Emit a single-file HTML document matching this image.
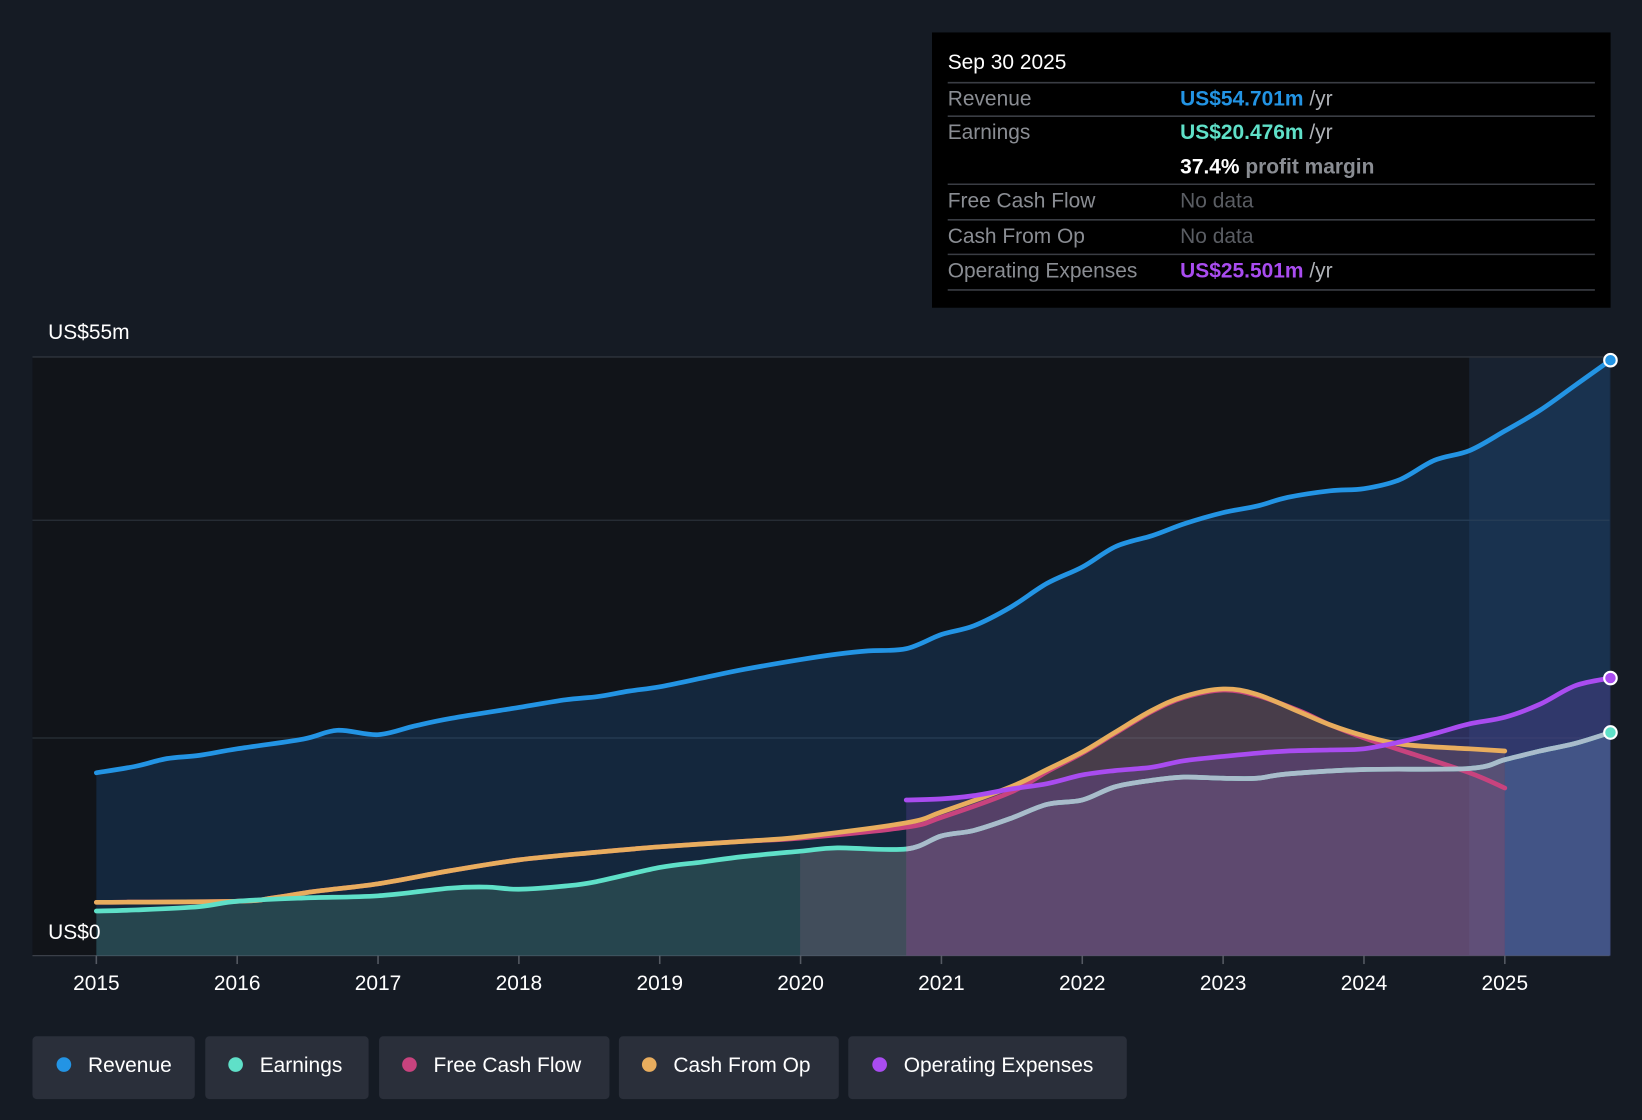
<!DOCTYPE html>
<html><head><meta charset="utf-8"><style>
html,body{margin:0;padding:0;background:#151b24;}
svg{display:block;font-family:"Liberation Sans",sans-serif;}
</style></head><body>
<svg id="chart" width="1642" height="1120" viewBox="0 0 1568 1070" preserveAspectRatio="none" xmlns="http://www.w3.org/2000/svg">
<defs>
<clipPath id="preClip"><rect x="0" y="300" width="764" height="700"/></clipPath>
<clipPath id="midClip"><rect x="764" y="300" width="101.5" height="700"/></clipPath>
<clipPath id="afterClip"><rect x="865.4" y="300" width="800" height="700"/></clipPath>
<clipPath id="histClip"><rect x="865.4" y="300" width="571.6" height="700"/></clipPath>
<clipPath id="futClip"><rect x="1437" y="300" width="200" height="700"/></clipPath>
</defs>
<rect x="0" y="0" width="1568" height="1070" fill="#151b24"/>
<rect x="31" y="341" width="1372" height="572" fill="#111419"/>
<rect x="1403" y="341" width="134" height="572" fill="#182230"/>
<g id="grid"></g>
<g id="fills"></g>
<g id="lines"></g>
<g id="axis"></g>
<text x="46" y="324" fill="#fff" font-size="20">US$55m</text>
<text x="46" y="897" fill="#fff" font-size="20">US$0</text>

<g>
<rect x="890" y="31" width="648" height="263" fill="#000"/>
<text x="905" y="66" fill="#fff" font-size="20">Sep 30 2025</text>
<g stroke="#3a3d44" stroke-width="1.5">
<line x1="905" y1="79" x2="1523" y2="79"/><line x1="905" y1="111" x2="1523" y2="111"/>
<line x1="905" y1="176" x2="1523" y2="176"/><line x1="905" y1="210" x2="1523" y2="210"/>
<line x1="905" y1="243" x2="1523" y2="243"/><line x1="905" y1="277" x2="1523" y2="277"/>
</g>
<g font-size="20" fill="#8a8d93">
<text x="905" y="101">Revenue</text><text x="905" y="133">Earnings</text>
<text x="905" y="198">Free Cash Flow</text><text x="905" y="232">Cash From Op</text>
<text x="905" y="265">Operating Expenses</text>
</g>
<text x="1127" y="101" font-size="20" font-weight="bold" fill="#2394e4">US$54.701m <tspan fill="#b0b3b8" font-weight="normal">/yr</tspan></text>
<text x="1127" y="133" font-size="20" font-weight="bold" fill="#5fe0c8">US$20.476m <tspan fill="#b0b3b8" font-weight="normal">/yr</tspan></text>
<text x="1127" y="166" font-size="20" font-weight="bold" fill="#fff">37.4% <tspan fill="#8a8d93">profit margin</tspan></text>
<text x="1127" y="198" font-size="20" fill="#5a5d63">No data</text>
<text x="1127" y="232" font-size="20" fill="#5a5d63">No data</text>
<text x="1127" y="265" font-size="20" font-weight="bold" fill="#a94cf0">US$25.501m <tspan fill="#b0b3b8" font-weight="normal">/yr</tspan></text>
</g>

<g font-size="20" fill="#fff">
<g><rect x="31" y="990" width="155" height="60" rx="4" fill="#2a2f3a"/><circle cx="61" cy="1017" r="7" fill="#2394e4"/><text x="84" y="1024" fill="#fff">Revenue</text></g>
<g><rect x="196" y="990" width="156" height="60" rx="4" fill="#2a2f3a"/><circle cx="225" cy="1017" r="7" fill="#5fe0c8"/><text x="248" y="1024" fill="#fff">Earnings</text></g>
<g><rect x="362" y="990" width="220" height="60" rx="4" fill="#2a2f3a"/><circle cx="391" cy="1017" r="7" fill="#c8437e"/><text x="414" y="1024" fill="#fff">Free Cash Flow</text></g>
<g><rect x="591" y="990" width="210" height="60" rx="4" fill="#2a2f3a"/><circle cx="620" cy="1017" r="7" fill="#e8ad5e"/><text x="643" y="1024" fill="#fff">Cash From Op</text></g>
<g><rect x="810" y="990" width="266" height="60" rx="4" fill="#2a2f3a"/><circle cx="840" cy="1017" r="7" fill="#a94cf0"/><text x="863" y="1024" fill="#fff">Operating Expenses</text></g>
</g>
</svg>
<script>
const revYears=[2015,2015.28,2015.5,2015.73,2016,2016.47,2016.71,2017,2017.26,2017.52,2018,2018.33,2018.56,2018.78,2019,2019.3,2019.6,2020,2020.26,2020.48,2020.75,2021,2021.23,2021.49,2021.75,2022,2022.24,2022.5,2022.73,2023,2023.24,2023.46,2023.76,2024,2024.25,2024.5,2024.75,2025,2025.25,2025.5,2025.75];
const revVals=[16.8,17.4,18.1,18.4,19.0,19.9,20.7,20.3,21.1,21.8,22.8,23.5,23.8,24.3,24.7,25.5,26.3,27.2,27.7,28.0,28.2,29.5,30.3,32.0,34.2,35.7,37.6,38.6,39.7,40.7,41.3,42.1,42.7,42.9,43.7,45.5,46.4,48.2,50.1,52.4,54.7];
const earnYears=[2015,2015.28,2015.73,2016,2016.47,2017,2017.51,2017.77,2018,2018.33,2018.55,2019,2019.3,2019.59,2020,2020.26,2020.75,2021,2021.23,2021.49,2021.75,2022,2022.23,2022.49,2022.72,2023,2023.24,2023.46,2024,2024.75,2025,2025.25,2025.5,2025.75];
const earnVals=[4.1,4.2,4.5,5.0,5.3,5.5,6.2,6.3,6.1,6.4,6.8,8.1,8.6,9.1,9.6,9.9,9.8,11.0,11.5,12.6,13.9,14.3,15.5,16.1,16.4,16.3,16.3,16.7,17.1,17.2,18.0,18.8,19.5,20.5];
const cfoYears=[2015,2016,2016.25,2016.55,2017,2017.51,2018,2018.55,2019,2019.59,2020,2020.75,2021,2021.49,2021.75,2022,2022.23,2022.49,2022.72,2023,2023.24,2023.54,2023.76,2024,2024.28,2024.75,2025];
const cfoVals=[4.9,5.0,5.3,5.9,6.6,7.8,8.8,9.5,10.0,10.5,10.9,12.2,13.2,15.5,17.1,18.7,20.5,22.5,23.8,24.5,24.0,22.4,21.2,20.2,19.4,19.0,18.8];
const fcfYears=[2015,2016,2016.25,2016.55,2017,2017.51,2018,2018.55,2019,2019.59,2020,2020.75,2021,2021.49,2021.75,2022,2022.23,2022.49,2022.72,2023,2023.24,2023.54,2023.76,2024,2024.28,2024.75,2025];
const fcfVals=[4.9,5.0,5.3,5.9,6.6,7.8,8.8,9.5,10.0,10.5,10.8,11.8,12.7,15.0,16.9,18.6,20.4,22.4,23.7,24.4,23.9,22.5,21.2,20.0,18.8,16.8,15.4];
const opexYears=[2020.75,2021,2021.23,2021.49,2021.75,2022,2022.23,2022.49,2022.72,2023,2023.24,2023.46,2023.76,2024,2024.28,2024.5,2024.75,2025,2025.25,2025.5,2025.75];
const opexVals=[14.3,14.4,14.7,15.3,15.8,16.6,17.0,17.3,17.9,18.3,18.6,18.8,18.9,19.0,19.7,20.4,21.3,21.9,23.1,24.8,25.5];
const xTicks=[2015,2016,2017,2018,2019,2020,2021,2022,2023,2024,2025];
const yGrid=[0,20,40,55];

const NS='http://www.w3.org/2000/svg';
const X=y=>92+(y-2015)*134.5;
const Y=v=>913-v*572/55;
function mk(tag,attrs,parent){const e=document.createElementNS(NS,tag);for(const k in attrs)e.setAttribute(k,attrs[k]);parent.appendChild(e);return e;}
function pts(xs,vs){return xs.map((x,i)=>[X(x),Y(vs[i])]);}
function smooth(p){let d='M'+p[0][0]+','+p[0][1];for(let i=0;i<p.length-1;i++){const p0=p[i-1]||p[i],p1=p[i],p2=p[i+1],p3=p[i+2]||p2;const c1x=p1[0]+(p2[0]-p0[0])/6,c1y=p1[1]+(p2[1]-p0[1])/6,c2x=p2[0]-(p3[0]-p1[0])/6,c2y=p2[1]-(p3[1]-p1[1])/6;d+=' C'+c1x+','+c1y+' '+c2x+','+c2y+' '+p2[0]+','+p2[1];}return d;}
function area(p){return smooth(p)+' L'+p[p.length-1][0]+','+Y(0)+' L'+p[0][0]+','+Y(0)+' Z';}

const grid=document.getElementById('grid');
yGrid.forEach(v=>{const l=mk('line',{x1:31,x2:1537,y1:Y(v),y2:Y(v),stroke:v===0?'#3a3f48':'#2a3039','stroke-width':v===55?1.5:1.2},grid);

});

const fills=document.getElementById('fills');
const lines=document.getElementById('lines');
const rp=pts(revYears,revVals),ep=pts(earnYears,earnVals),cp=pts(cfoYears,cfoVals),fp=pts(fcfYears,fcfVals),op=pts(opexYears,opexVals);
let a;
a=mk('path',{d:area(rp),fill:'rgba(30,110,190,0.22)'},fills);


a=mk('path',{d:area(cp),fill:'rgba(210,150,100,0.2)','clip-path':'url(#afterClip)'},fills);


a=mk('path',{d:area(fp),fill:'rgba(200,70,130,0.1)','clip-path':'url(#afterClip)'},fills);


a=mk('path',{d:area(op),fill:'rgba(140,80,220,0.2)'},fills);


a=mk('path',{d:area(ep),fill:'rgba(110,190,150,0.2)','clip-path':'url(#preClip)'},fills);


a=mk('path',{d:area(ep),fill:'rgba(150,150,150,0.35)','clip-path':'url(#midClip)'},fills);


a=mk('path',{d:area(ep),fill:'rgba(150,130,160,0.15)','clip-path':'url(#histClip)'},fills);


a=mk('path',{d:area(ep),fill:'rgba(110,150,200,0.3)','clip-path':'url(#futClip)'},fills);



function line(p,color,name,w){const l=mk('path',{d:smooth(p),fill:'none',stroke:color,'stroke-width':w||4.5,'stroke-linecap':'round','stroke-linejoin':'round'},lines);

return l;}
line(fp,'#c8437e','free-cash-flow-line');
line(cp,'#e8ad5e','cash-from-op-line');
line(ep,'#5fe0c8','earnings-line');
line(op,'#a94cf0','opex-line');
line(rp,'#2394e4','revenue-line');
const e2=line(ep,'#a9bccb','earnings-line-overlay');e2.setAttribute('clip-path','url(#afterClip)');
function dot(p,color,name){const c=mk('circle',{cx:p[0],cy:p[1],r:6,fill:color,stroke:'#fff','stroke-width':2},lines);

}
dot(rp[rp.length-1],'#2394e4','revenue-end-dot');
dot(op[op.length-1],'#a94cf0','opex-end-dot');
dot(ep[ep.length-1],'#5fe0c8','earnings-end-dot');

const axis=document.getElementById('axis');
xTicks.forEach(t=>{mk('line',{x1:X(t),x2:X(t),y1:913,y2:921,stroke:'#555a63','stroke-width':1.5},axis);
const tx=mk('text',{x:X(t),y:946,fill:'#fff','font-size':20,'text-anchor':'middle'},axis);tx.textContent=t;

});
</script>
</body></html>
